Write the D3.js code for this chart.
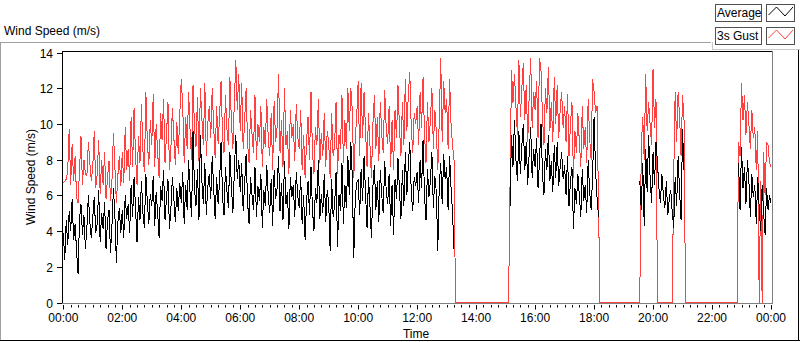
<!DOCTYPE html>
<html><head><meta charset="utf-8">
<script src="https://cdn.jsdelivr.net/npm/d3@7"></script>
<style>
body{margin:0;background:#fff}
svg{display:block}
text{font-family:"Liberation Sans",Arial,sans-serif;font-size:12px;fill:#000}
</style>
</head><body>
<svg id="chart" width="800" height="342"></svg>
<script>
// ---- data (3-minute samples, 00:00 .. 24:00; one row per hour) ----
const sampleStepMinutes = 3;
const seriesNames = ["Average", "3s Gust"];
const yTickValues = [0, 2, 4, 6, 8, 10, 12, 14];
const xTickLabels = ["00:00","02:00","04:00","06:00","08:00","10:00","12:00","14:00","16:00","18:00","20:00","22:00","00:00"];
const _ = null;
const averageSpeed = [
 3.9,2.4,4.6,3.2,5.1,4.0,5.8,3.5,4.4,2.9,1.6,4.7,5.5,3.8,4.9,3.0,4.2,6.0,4.5,3.6,
 4.8,5.9,3.9,4.4,6.3,3.4,5.0,4.1,5.6,3.0,4.6,5.2,2.8,4.3,6.4,4.9,2.2,4.5,5.3,3.9,
 5.2,3.6,6.0,4.7,5.5,3.9,6.6,4.8,7.0,5.3,3.4,5.9,4.6,6.8,5.0,4.2,7.2,5.6,4.4,6.1,
 5.4,7.1,4.3,6.2,5.0,3.6,6.5,5.7,7.4,4.6,5.9,6.9,4.1,5.3,7.0,5.8,4.5,6.4,5.1,6.7,
 5.6,7.3,4.4,6.6,5.2,8.0,6.1,4.8,9.6,6.3,5.4,7.5,4.6,9.4,6.8,5.5,7.8,4.9,6.5,7.2,
 5.8,8.2,6.4,4.7,7.0,5.5,6.8,9.0,5.9,4.9,7.6,6.2,5.3,8.4,6.6,5.0,7.3,9.4,6.9,8.0,
 6.2,7.8,5.1,6.7,8.3,5.6,4.4,7.0,6.0,5.2,7.6,4.8,6.5,5.7,7.2,4.2,6.3,5.4,7.7,6.0,
 5.0,6.9,4.3,7.4,5.8,6.4,8.2,5.1,6.7,4.6,7.9,5.5,6.2,4.1,7.0,5.9,6.6,4.8,7.3,6.0,
 5.3,7.1,4.4,6.0,3.5,5.7,6.8,4.9,7.6,5.2,4.0,6.4,5.6,8.0,4.7,6.1,5.0,7.2,4.5,6.3,
 5.6,2.9,6.9,4.8,5.4,7.3,3.1,6.0,5.1,7.8,4.4,6.6,5.3,8.2,6.0,9.0,7.1,2.5,5.8,6.7,
 6.9,4.9,7.5,5.7,8.2,6.1,4.2,7.0,5.4,3.6,6.5,7.7,5.2,6.8,4.5,7.4,6.0,5.0,7.9,6.3,
 5.5,7.2,4.3,6.6,3.8,6.9,5.8,8.1,6.3,4.7,7.4,5.4,8.4,6.0,7.7,9.0,6.2,5.1,7.0,6.5,
 7.3,5.6,8.0,6.4,9.1,6.0,4.6,7.5,5.9,6.8,8.4,5.3,7.1,6.2,2.9,6.6,7.8,5.5,8.3,6.9,
 7.6,5.2,8.2,6.4,5.0,3.0,_,_,_,_,_,_,_,_,_,_,_,_,_,_,
 _,_,_,_,_,_,_,_,_,_,_,_,_,_,_,_,_,_,_,_,
 _,_,_,5.4,9.4,7.6,10.2,8.0,6.8,9.6,7.2,8.8,10.0,7.4,9.0,6.6,8.4,9.8,7.0,8.6,
 7.6,9.2,6.4,8.0,10.0,7.2,6.0,8.6,7.4,9.4,6.8,7.9,6.2,8.8,7.0,9.0,6.5,7.6,8.4,6.9,
 7.7,6.0,8.2,5.4,6.8,7.6,4.1,6.4,5.5,7.2,6.0,4.8,7.5,5.7,6.6,5.0,8.0,6.2,5.2,7.0,
 10.4,7.4,5.9,4.8,_,_,_,_,_,_,_,_,_,_,_,_,_,_,_,_,
 _,_,_,_,_,_,_,_,_,_,_,6.8,5.2,7.8,4.3,8.6,6.2,9.4,7.0,5.6,
 8.4,6.6,9.0,7.8,6.4,5.6,7.2,6.0,5.3,6.8,4.9,5.8,6.3,5.1,4.2,7.0,5.4,8.2,6.2,4.6,
 9.7,7.4,_,_,_,_,_,_,_,_,_,_,_,_,_,_,_,_,_,_,
 _,_,_,_,_,_,_,_,_,_,_,_,_,_,_,_,_,_,7.8,5.2,
 8.7,6.4,7.6,5.5,8.0,6.8,4.8,7.2,5.9,6.6,4.4,7.0,5.3,4.0,6.6,5.0,3.8,6.4,5.2,6.0,
 5.6
];
const gustSpeed = [
 6.7,6.8,6.9,7.4,9.7,6.6,8.9,6.8,8.2,5.9,5.6,7.4,9.3,6.6,8.0,7.2,7.1,9.0,7.8,6.8,
 7.6,9.6,6.4,7.2,9.1,6.1,8.0,6.6,8.4,5.8,7.0,7.9,5.7,6.8,9.5,7.6,5.6,7.1,8.2,6.5,
 8.4,6.7,9.8,7.4,8.6,6.8,10.4,7.6,10.9,8.2,6.6,9.3,7.8,11.1,8.5,7.3,11.8,9.0,7.7,10.2,
 8.8,11.7,7.6,10.0,8.4,7.0,10.6,9.1,11.4,7.8,9.4,11.2,7.4,8.7,10.9,9.2,7.7,10.1,8.3,10.5,
 12.5,11.0,7.8,10.4,8.6,11.8,9.6,8.0,12.2,9.8,8.7,11.5,7.9,12.0,10.3,8.8,12.3,8.2,10.0,11.0,
 9.2,12.0,9.8,8.1,11.0,8.9,10.4,12.4,9.3,8.4,11.6,9.7,8.8,12.6,10.2,8.6,11.2,13.6,10.8,12.8,
 9.6,12.3,8.6,10.2,12.0,8.9,7.8,10.8,9.4,8.4,11.6,8.0,10.0,9.0,11.0,7.6,9.8,8.7,11.4,9.2,
 8.2,10.6,7.4,11.3,9.0,9.8,12.8,8.4,10.2,7.6,12.0,8.8,9.6,7.2,10.8,9.2,10.0,7.9,11.1,9.3,
 8.6,10.8,7.4,9.4,7.0,9.0,10.4,8.0,11.8,8.4,7.2,9.8,8.8,11.4,7.8,9.5,8.2,10.6,7.6,9.6,
 9.0,7.0,10.6,8.2,8.8,11.2,7.2,9.4,8.6,11.6,7.8,10.2,8.6,12.0,9.6,12.0,10.8,7.0,9.2,10.4,
 12.4,8.2,12.3,9.2,11.8,9.6,7.6,10.6,8.8,7.0,10.0,11.6,8.6,10.4,7.9,11.2,9.4,8.4,11.9,9.8,
 8.9,11.0,7.6,10.2,7.4,10.8,9.2,12.2,9.8,8.2,11.2,8.8,12.5,9.6,11.6,12.9,9.8,8.4,10.6,10.0,
 11.0,8.8,11.8,9.8,12.6,9.4,7.8,11.2,9.0,10.2,12.0,8.6,10.8,9.6,7.4,10.2,13.7,9.0,12.4,10.6,
 11.4,8.6,12.5,10.0,8.8,8.0,0,0,0,0,0,0,0,0,0,0,0,0,0,0,
 0,0,0,0,0,0,0,0,0,0,0,0,0,0,0,0,0,0,0,0,
 0,0,0,6.6,13.0,11.2,12.8,11.0,9.4,13.6,10.4,12.0,13.4,10.2,12.2,9.0,11.6,13.7,9.8,11.8,
 10.8,12.4,9.2,13.7,13.0,10.4,8.8,12.0,10.6,13.2,9.6,11.2,9.0,12.6,10.0,12.2,9.2,10.8,11.8,9.8,
 11.0,9.0,11.7,8.2,10.0,11.2,7.0,9.6,8.4,10.6,9.0,7.6,11.0,8.6,9.8,7.8,11.4,9.2,8.0,12.5,
 11.8,10.6,11.0,5.6,0,0,0,0,0,0,0,0,0,0,0,0,0,0,0,0,
 0,0,0,0,0,0,0,0,0,0,0,0,8.6,10.4,8.0,12.8,9.6,11.2,10.0,8.8,
 13.1,9.8,11.4,0,0,0,0,0,0,0,0,0,0,0,7.0,11.8,9.0,11.8,10.4,8.2,
 11.6,10.2,0,0,0,0,0,0,0,0,0,0,0,0,0,0,0,0,0,0,
 0,0,0,0,0,0,0,0,0,0,0,0,0,0,0,0,0,0,9.0,8.2,
 12.3,10.2,11.6,9.4,11.2,10.0,8.6,10.8,9.2,9.8,7.4,9.6,0,6.8,0,8.4,6.0,9.0,8.8,7.8,
 7.6
];

// ---- layout ----
const svg = d3.select("#chart");
const plot = {left: 62, right: 772, top: 51, bottom: 303};
const x = d3.scaleLinear().domain([0, 1440]).range([63.3, 771]);
const y = d3.scaleLinear().domain([0, 14]).range([302.5, 52.5]);

// outer frame
svg.append("line").attr("x1",0).attr("x2",711).attr("y1",42.5).attr("y2",42.5).attr("stroke","#a0a0a0");
svg.append("line").attr("x1",0.5).attr("x2",0.5).attr("y1",42).attr("y2",341).attr("stroke","#a0a0a0");
svg.append("line").attr("x1",0).attr("x2",800).attr("y1",340.5).attr("y2",340.5).attr("stroke","#000");
svg.append("line").attr("x1",798.5).attr("x2",798.5).attr("y1",49).attr("y2",341).attr("stroke","#000");

// title
svg.append("text").attr("x",4).attr("y",35).text("Wind Speed (m/s)");

// plot border
svg.append("line").attr("x1",plot.left).attr("x2",plot.right).attr("y1",51.5).attr("y2",51.5).attr("stroke","#000");
svg.append("line").attr("x1",62.5).attr("x2",62.5).attr("y1",51).attr("y2",303).attr("stroke","#000");
svg.append("line").attr("x1",plot.left).attr("x2",plot.right+1).attr("y1",303.5).attr("y2",303.5).attr("stroke","#808080");
svg.append("line").attr("x1",772.5).attr("x2",772.5).attr("y1",51).attr("y2",304).attr("stroke","#808080");

// y axis
const yAxis = svg.append("g");
yTickValues.forEach(v => {
  const yy = Math.round(y(v)) + 0.5;
  yAxis.append("line").attr("x1",57).attr("x2",62).attr("y1",yy).attr("y2",yy).attr("stroke","#000");
  yAxis.append("text").attr("x",53).attr("y",yy+4.5).attr("text-anchor","end").text(v);
});
svg.append("text").attr("transform","translate(35,177) rotate(-90)").attr("text-anchor","middle").text("Wind Speed (m/s)");

// x axis
const xAxis = svg.append("g");
d3.range(0, 1441, 15).forEach(m => {
  const xx = Math.round(x(m)) + 0.5;
  const major = m % 120 === 0;
  xAxis.append("line").attr("x1",xx).attr("x2",xx).attr("y1",305).attr("y2",major?309.5:307.5).attr("stroke","#000");
});
xTickLabels.forEach((lab, i) => {
  xAxis.append("text").attr("x", x(i*120)).attr("y",322).attr("text-anchor","middle").text(lab);
});
svg.append("text").attr("x",416).attr("y",338).attr("text-anchor","middle").text("Time");

// data lines (crisp, non-antialiased like the original instrument display)
svg.append("clipPath").attr("id","pc").append("rect")
  .attr("x",63).attr("y",52).attr("width",709).attr("height",252);
const g = svg.append("g").attr("clip-path","url(#pc)");
const lineGen = d3.line().defined(d => d[1] != null).x(d => x(d[0])).y(d => y(d[1]));
const gustPts = gustSpeed.map((v,i) => [i*sampleStepMinutes, v]);
const avgPts = averageSpeed.map((v,i) => [i*sampleStepMinutes, v]);
g.append("path").attr("d", lineGen(gustPts)).attr("fill","none").attr("stroke","#ff4040")
  .attr("stroke-width",1).attr("shape-rendering","crispEdges");
g.append("path").attr("d", lineGen(avgPts)).attr("fill","none").attr("stroke","#000")
  .attr("stroke-width",1).attr("shape-rendering","crispEdges");

// legend
const leg = svg.append("g");
leg.append("rect").attr("x",712).attr("y",0).attr("width",88).attr("height",49).attr("fill","#fff");
leg.append("line").attr("x1",712.5).attr("x2",712.5).attr("y1",42).attr("y2",49).attr("stroke","#c8c8c8");
leg.append("line").attr("x1",712).attr("x2",800).attr("y1",49.5).attr("y2",49.5).attr("stroke","#c8c8c8");
const legColors = ["#000", "#ff4040"];
seriesNames.forEach((name, i) => {
  const y0 = 4 + i*23;
  leg.append("rect").attr("x",715.5).attr("y",y0+0.5).attr("width",46).attr("height",17).attr("fill","#fff").attr("stroke","#505050");
  leg.append("text").attr("x",717).attr("y",y0+13).text(name);
  leg.append("rect").attr("x",766.5).attr("y",y0+0.5).attr("width",28).attr("height",17).attr("fill","#fff").attr("stroke","#505050");
  const zig = [[768.5,y0+11],[776.5,y0+3],[785,y0+12],[793,y0+3]];
  leg.append("path").attr("d", d3.line()(zig)).attr("fill","none").attr("stroke",legColors[i]);
});
</script>
</body></html>
